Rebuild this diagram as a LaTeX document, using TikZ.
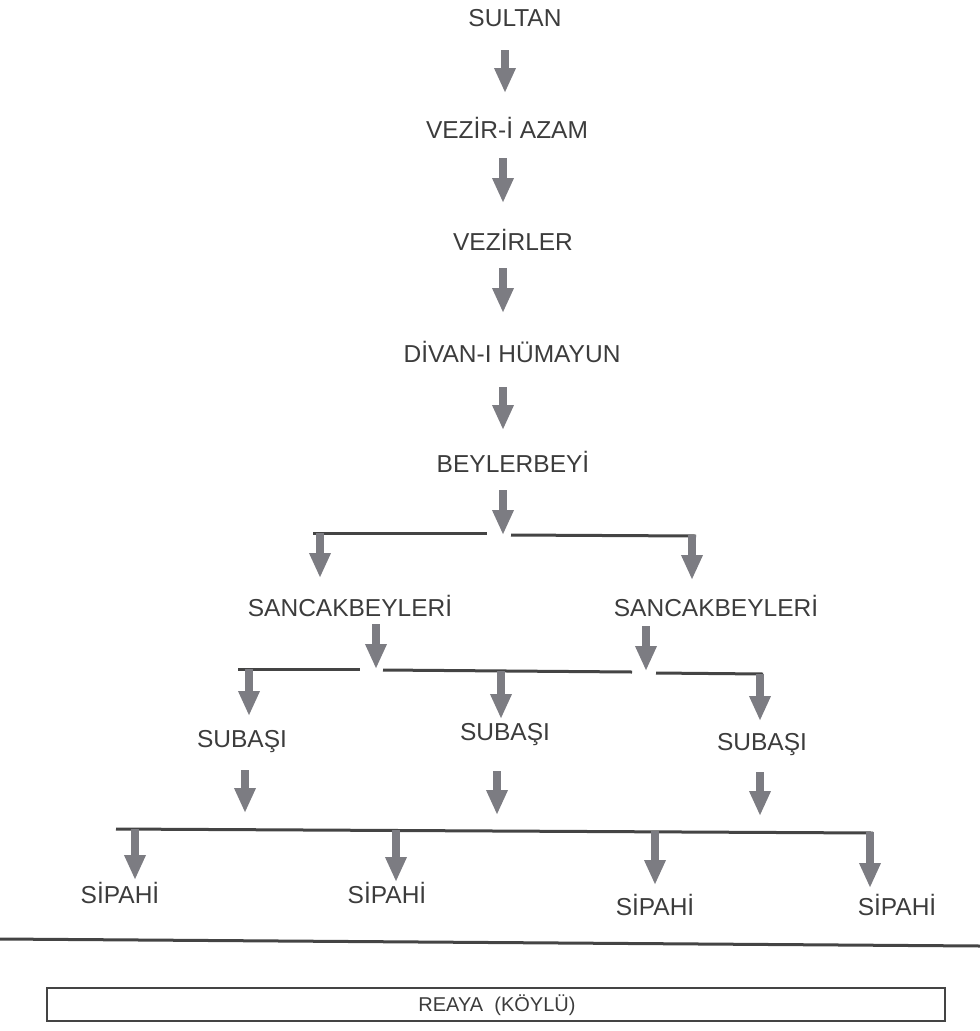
\documentclass[tikz,border=0pt]{standalone}
\usepackage{fontspec}
\setmainfont{Liberation Sans}
\usetikzlibrary{arrows.meta}
\definecolor{txt}{HTML}{3C3C3C}
\definecolor{arr}{HTML}{7C7C82}
\definecolor{ln}{HTML}{444444}
\begin{document}
\begin{tikzpicture}[x=1pt,y=-1pt,
  lbl/.style={text=txt,font=\fontsize{24.5}{28}\selectfont,inner sep=0pt},
  small/.style={text=txt,font=\fontsize{20}{24}\selectfont,inner sep=0pt},
  barrow/.style={draw=arr,fill=arr,line width=7.5pt,-{Triangle[width=20pt,length=25pt]}},
  hline/.style={draw=ln,line width=3pt},
  boxst/.style={draw=ln,line width=2.5pt}]
\useasboundingbox (0,0) rectangle (980,1031);

% text nodes
\node[lbl] (sultan) at (515,18) {SULTAN};
\node[lbl] (azam) at (507,128) {VEZİR-İ AZAM};
\node[lbl] (vezirler) at (513,240) {VEZİRLER};
\node[lbl] (divan) at (512,352) {DİVAN-I HÜMAYUN};
\node[lbl] (beyler) at (513,462) {BEYLERBEYİ};
\node[lbl] (sancakL) at (350,606) {SANCAKBEYLERİ};
\node[lbl] (sancakR) at (716,606) {SANCAKBEYLERİ};
\node[lbl] (subL) at (242,742) {SUBAŞI};
\node[lbl] (subM) at (505,735) {SUBAŞI};
\node[lbl] (subR) at (762,745) {SUBAŞI};
\node[lbl] (sip1) at (120,893) {SİPAHİ};
\node[lbl] (sip2) at (387,893) {SİPAHİ};
\node[lbl] (sip3) at (655,905) {SİPAHİ};
\node[lbl] (sip4) at (897,905) {SİPAHİ};

% vertical chain
\coordinate (a1s) at (505,50);  \coordinate (a1e) at (505,93);
\coordinate (a2s) at (503,158); \coordinate (a2e) at (503,203);
\coordinate (a3s) at (503,268); \coordinate (a3e) at (503,313);
\coordinate (a4s) at (503,387); \coordinate (a4e) at (503,430);
\coordinate (a5s) at (503,490); \coordinate (a5e) at (503,535);
\draw[barrow] (a1s) -- (a1e);
\draw[barrow] (a2s) -- (a2e);
\draw[barrow] (a3s) -- (a3e);
\draw[barrow] (a4s) -- (a4e);
\draw[barrow] (a5s) -- (a5e);

% level: beylerbeyi -> sancakbeyleri
\coordinate (l1a) at (313,533); \coordinate (l1b) at (487,533);
\coordinate (l1c) at (511,535); \coordinate (l1d) at (696,536);
\draw[hline] (l1a) -- (l1b);
\draw[hline] (l1c) -- (l1d);
\draw[barrow] (320,533) -- (320,578);
\draw[barrow] (692,535) -- (692,580);

% sancakbeyleri -> subasi
\draw[barrow] (376,624) -- (376,669);
\draw[barrow] (646,626) -- (646,671);
\coordinate (l2a) at (238,669); \coordinate (l2b) at (360,669);
\coordinate (l2c) at (383,670); \coordinate (l2d) at (632,672);
\coordinate (l2e) at (656,673); \coordinate (l2f) at (763,674);
\draw[hline] (l2a) -- (l2b);
\draw[hline] (l2c) -- (l2d);
\draw[hline] (l2e) -- (l2f);
\draw[barrow] (249,669) -- (249,716);
\draw[barrow] (501,671) -- (501,719);
\draw[barrow] (760,674) -- (760,721);

% subasi -> sipahi
\draw[barrow] (245,770) -- (245,813);
\draw[barrow] (497,771) -- (497,815);
\draw[barrow] (760,772) -- (760,816);
\coordinate (l3a) at (116,829); \coordinate (l3b) at (873,833);
\draw[hline] (l3a) -- (l3b);
\draw[barrow] (135,829) -- (135,880);
\draw[barrow] (396,830) -- (396,882);
\draw[barrow] (655,831) -- (655,885);
\draw[barrow] (870,832) -- (870,888);

% separator and reaya box
\coordinate (sepL) at (0,939); \coordinate (sepR) at (980,946);
\draw[hline] (sepL) -- (sepR);
\draw[boxst] (47,988) rectangle (945,1021);
\node[small] (reaya) at (497,1005) {REAYA\ \ (KÖYLÜ)};
\end{tikzpicture}
\end{document}
